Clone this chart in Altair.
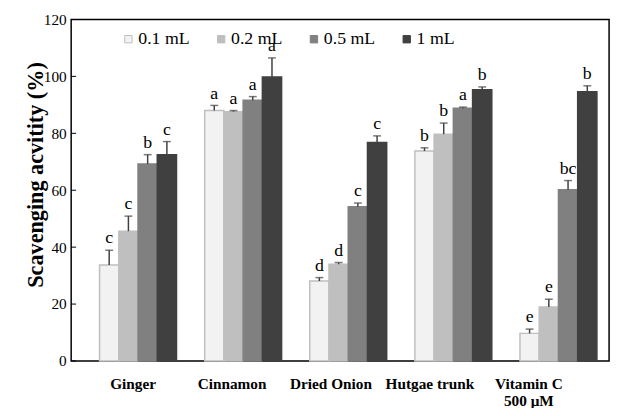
import altair as alt
import pandas as pd

samples = ["Ginger", "Cinnamon", "Dried Onion", "Hutgae trunk", "Vitamin C 500 μM"]
concs = ["0.1 mL", "0.2 mL", "0.5 mL", "1 mL"]

# mean values per sample, one list per concentration order
values = {
    "Ginger":           [33.7, 45.6, 69.2, 72.5],
    "Cinnamon":         [88.0, 87.6, 91.6, 99.8],
    "Dried Onion":      [28.1, 34.0, 54.2, 76.8],
    "Hutgae trunk":     [73.8, 79.7, 88.8, 95.3],
    "Vitamin C 500 μM": [9.7, 19.0, 60.2, 94.6],
}
errors = {
    "Ginger":           [5.2, 5.3, 3.3, 4.6],
    "Cinnamon":         [1.8, 0.4, 1.3, 6.7],
    "Dried Onion":      [1.2, 0.6, 1.3, 2.3],
    "Hutgae trunk":     [1.1, 3.9, 0.4, 1.0],
    "Vitamin C 500 μM": [1.5, 2.7, 3.2, 2.1],
}
letters = {
    "Ginger":           ["c", "c", "b", "c"],
    "Cinnamon":         ["a", "a", "a", "a"],
    "Dried Onion":      ["d", "d", "c", "c"],
    "Hutgae trunk":     ["b", "b", "a", "b"],
    "Vitamin C 500 μM": ["e", "e", "bc", "b"],
}
y_ticks = [0, 20, 40, 60, 80, 100, 120]

fills = ["#f2f2f2", "#bfbfbf", "#808080", "#404040"]
strokes = ["#bfbfbf", "#bfbfbf", "#808080", "#404040"]

rows = []
for s in samples:
    for i, c in enumerate(concs):
        v = values[s][i]
        e = errors[s][i]
        rows.append({"sample": s, "conc": c, "value": v, "top": v + e, "letter": letters[s][i]})
df = pd.DataFrame(rows)
ticks_df = pd.DataFrame({"t": y_ticks})

FONT = "Liberation Serif"

x_enc = alt.X(
    "sample:N",
    sort=samples,
    scale=alt.Scale(paddingInner=0.268, paddingOuter=0.193, align=0.7),
    axis=alt.Axis(
        title=None, ticks=False, domain=False,
        labelFont=FONT, labelFontSize=15.5, labelFontWeight="bold", labelColor="black",
        labelAngle=0, labelPadding=16, labelLineHeight=17,
        labelOffset={"expr": "-5 - 25*datum.index"},
        labelExpr="datum.label == 'Vitamin C 500 μM' ? ['Vitamin C', '500 μM'] : datum.label",
    ),
)
xo_enc = alt.XOffset("conc:N", sort=concs, scale=alt.Scale(paddingInner=0, paddingOuter=0))
y_scale = alt.Scale(domain=[0, 120], nice=False)

base = alt.Chart(df)

bars = base.mark_bar(strokeWidth=1.5).encode(
    x=x_enc,
    xOffset=xo_enc,
    y=alt.Y(
        "value:Q",
        scale=y_scale,
        axis=alt.Axis(
            values=y_ticks, ticks=False, grid=False, domain=False,
            labelFont=FONT, labelFontSize=15.5, labelColor="black", labelPadding=5,
            title="Scavenging acvitity (%)", titleFont=FONT, titleFontSize=22.5,
            titleFontWeight="bold", titleColor="black", titleX=-24, titleY=157,
        ),
    ),
    color=alt.Color(
        "conc:N", sort=concs, scale=alt.Scale(domain=concs, range=fills),
        legend=alt.Legend(
            title=None, orient="none", legendX=49, legendY=11, direction="horizontal",
            columns=4, columnPadding=23, symbolType="square", symbolSize=56,
            symbolStrokeWidth=1, symbolStrokeColor="#bfbfbf",
            labelFont=FONT, labelFontSize=18, labelColor="black",
            labelOffset=1, padding=0,
        ),
    ),
    stroke=alt.Stroke("conc:N", sort=concs, scale=alt.Scale(domain=concs, range=strokes),
                      legend=None),
)

err = base.mark_rule(color="#404040", strokeWidth=1.5).encode(
    x=alt.X("sample:N", sort=samples),
    xOffset=alt.XOffset("conc:N", sort=concs),
    y=alt.Y("value:Q", scale=y_scale),
    y2="top:Q",
)

caps = base.mark_tick(color="#404040", size=8, thickness=1.5, orient="horizontal").encode(
    x=alt.X("sample:N", sort=samples),
    xOffset=alt.XOffset("conc:N", sort=concs),
    y=alt.Y("top:Q", scale=y_scale),
)

labels = base.mark_text(font=FONT, fontSize=18, color="black", baseline="alphabetic", dy=-7).encode(
    x=alt.X("sample:N", sort=samples),
    xOffset=alt.XOffset("conc:N", sort=concs),
    y=alt.Y("top:Q", scale=y_scale),
    text="letter:N",
)

yticks = alt.Chart(ticks_df).mark_rule(color="black", strokeWidth=1).encode(
    y=alt.Y("t:Q", scale=y_scale),
    x=alt.value(0),
    x2=alt.value(5),
)

chart = alt.layer(bars, err, caps, labels, yticks).properties(
    width=545, height=346,
    padding={"left": 64, "top": 9, "right": 6, "bottom": 45},
    autosize="none",
).configure_view(
    stroke="black", strokeWidth=1.5
).configure_axis(
    labelFont=FONT
).configure_legend(
    labelFont=FONT, labelFontSize=18, labelColor="black"
)

chart.save("out.html", embed_options={"renderer": "svg", "actions": False})
